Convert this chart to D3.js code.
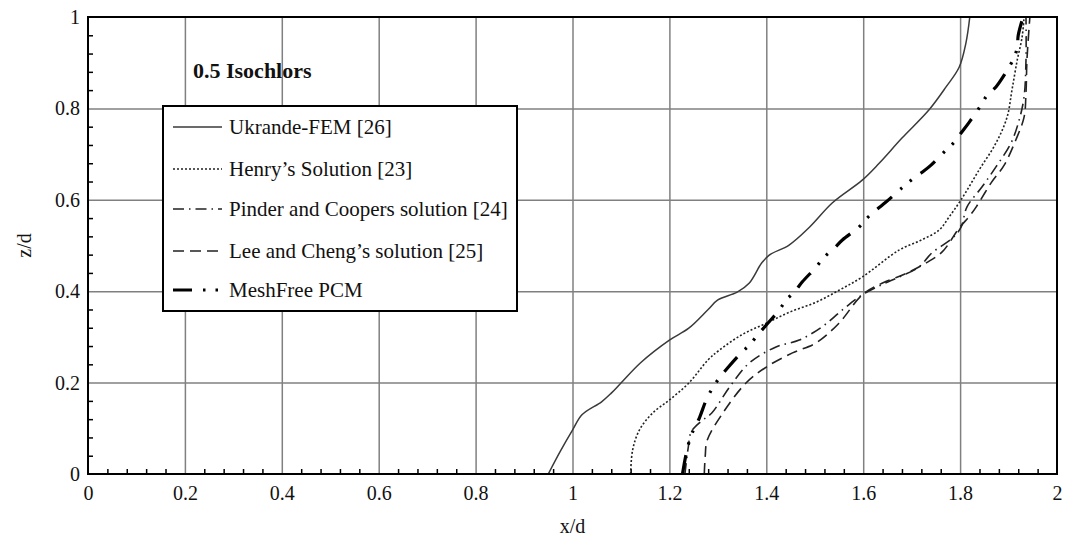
<!DOCTYPE html>
<html><head><meta charset="utf-8">
<script src="https://cdn.jsdelivr.net/npm/d3@7"></script>
<style>
html,body{margin:0;padding:0;background:#fff;}
svg{display:block;}
svg text{font-family:"Liberation Serif","Times New Roman","DejaVu Serif",serif;}
</style></head>
<body><svg id="c" width="1065" height="540"></svg>
<script>
// ---- data ----
const xTicks = [0, 0.2, 0.4, 0.6, 0.8, 1, 1.2, 1.4, 1.6, 1.8, 2];
const xTickLabels = ["0","0.2","0.4","0.6","0.8","1","1.2","1.4","1.6","1.8","2"];
const yTicks = [0, 0.2, 0.4, 0.6, 0.8, 1];
const yTickLabels = ["0","0.2","0.4","0.6","0.8","1"];
const seriesNames = ["Ukrande-FEM [26]","Henry\u2019s Solution [23]","Pinder and Coopers solution [24]","Lee and Cheng\u2019s solution [25]","MeshFree PCM"];

const ukrandeX = [0.95,0.975,1.0,1.02,1.06,1.08,1.1,1.14,1.2,1.24,1.28,1.30,1.34,1.365,1.39,1.406,1.447,1.49,1.536,1.598,1.633,1.68,1.736,1.771,1.798,1.812,1.82];
const ukrandeZ = [0,0.05,0.096,0.13,0.158,0.177,0.199,0.243,0.293,0.319,0.36,0.381,0.398,0.418,0.461,0.479,0.501,0.541,0.593,0.643,0.68,0.735,0.797,0.847,0.89,0.943,1.0];

const henryX = [1.12,1.124,1.138,1.165,1.2,1.24,1.28,1.303,1.35,1.4,1.45,1.503,1.55,1.598,1.674,1.72,1.757,1.777,1.802,1.839,1.874,1.897,1.907,1.918,1.928,1.932];
const henryZ = [0,0.052,0.096,0.133,0.162,0.199,0.25,0.271,0.305,0.33,0.355,0.376,0.402,0.431,0.49,0.512,0.534,0.562,0.6,0.665,0.724,0.781,0.84,0.906,0.956,1.0];

const pinderX = [1.232,1.239,1.245,1.265,1.287,1.324,1.365,1.42,1.468,1.515,1.557,1.598,1.64,1.674,1.715,1.742,1.784,1.802,1.814,1.845,1.874,1.905,1.922,1.932,1.936,1.936];
const pinderZ = [0,0.059,0.092,0.115,0.133,0.19,0.243,0.278,0.293,0.322,0.359,0.392,0.415,0.431,0.453,0.484,0.516,0.54,0.584,0.628,0.672,0.724,0.775,0.825,0.906,1.0];

const leeX = [1.272,1.274,1.278,1.31,1.358,1.4,1.454,1.503,1.55,1.598,1.64,1.68,1.695,1.73,1.763,1.798,1.82,1.833,1.864,1.891,1.915,1.932,1.936,1.938,1.944];
const leeZ = [0,0.04,0.074,0.133,0.199,0.234,0.265,0.287,0.33,0.392,0.418,0.435,0.442,0.462,0.486,0.538,0.565,0.584,0.637,0.676,0.731,0.781,0.834,0.906,1.0];

const pcmX = [1.227,1.235,1.245,1.262,1.276,1.289,1.303,1.32,1.348,1.365,1.382,1.4,1.427,1.441,1.458,1.474,1.503,1.52,1.54,1.557,1.592,1.608,1.627,1.647,1.68,1.699,1.72,1.74,1.771,1.788,1.802,1.819,1.843,1.856,1.874,1.891,1.911,1.918,1.92,1.93];
const pcmZ = [0,0.046,0.085,0.123,0.162,0.188,0.21,0.232,0.265,0.282,0.304,0.326,0.359,0.381,0.398,0.42,0.453,0.475,0.494,0.512,0.541,0.56,0.578,0.595,0.626,0.643,0.659,0.676,0.709,0.726,0.746,0.77,0.807,0.829,0.847,0.873,0.91,0.934,0.96,1.0];

// ---- layout ----
const FONT = "Liberation Serif, Times New Roman, DejaVu Serif, serif";
const M = {left:88, top:17, right:1057, bottom:474};
const W = M.right - M.left, H = M.bottom - M.top;
const svg = d3.select("#c");
const g = svg.append("g").attr("transform",`translate(${M.left},${M.top})`);
const x = d3.scaleLinear().domain([0,2]).range([0,W]);
const y = d3.scaleLinear().domain([0,1]).range([H,0]);
const FS = 20;

// grid
g.append("g").attr("transform",`translate(0,${H})`)
 .call(d3.axisBottom(x).tickValues(xTicks.slice(1,-1)).tickSize(-H).tickFormat(""))
 .call(s=>{s.select(".domain").remove(); s.selectAll("line").attr("stroke","#808080").attr("stroke-width",1.5);});
g.append("g")
 .call(d3.axisLeft(y).tickValues(yTicks.slice(1,-1)).tickSize(-W).tickFormat(""))
 .call(s=>{s.select(".domain").remove(); s.selectAll("line").attr("stroke","#808080").attr("stroke-width",1.5);});

// minor ticks (inward)
const xMinor = d3.range(0,2.0001,0.04).filter(v=>Math.abs(v/0.2-Math.round(v/0.2))>1e-6);
const yMinor = d3.range(0,1.0001,0.04).filter(v=>Math.abs(v/0.2-Math.round(v/0.2))>1e-6);
g.append("g").attr("transform",`translate(0,${H})`)
 .call(d3.axisBottom(x).tickValues(xMinor).tickSize(-5).tickFormat(""))
 .call(s=>{s.select(".domain").remove(); s.selectAll("line").attr("stroke","#000").attr("stroke-width",1.5);});
g.append("g")
 .call(d3.axisLeft(y).tickValues(yMinor).tickSize(-5).tickFormat(""))
 .call(s=>{s.select(".domain").remove(); s.selectAll("line").attr("stroke","#000").attr("stroke-width",1.5);});

// tick labels
g.append("g").attr("transform",`translate(0,${H})`)
 .call(d3.axisBottom(x).tickValues(xTicks).tickSize(0).tickPadding(12).tickFormat((d,i)=>xTickLabels[i]))
 .call(s=>{s.attr("font-family",FONT); s.select(".domain").remove(); s.selectAll("text").attr("font-family",FONT).attr("font-size",FS).attr("fill","#111");});
g.append("g")
 .call(d3.axisLeft(y).tickValues(yTicks).tickSize(0).tickPadding(8).tickFormat((d,i)=>yTickLabels[i]))
 .call(s=>{s.attr("font-family",FONT); s.select(".domain").remove(); s.selectAll("text").attr("font-family",FONT).attr("font-size",FS).attr("fill","#111");});

// axis titles
svg.append("text").attr("x",M.left+x(1)).attr("y",526).attr("text-anchor","middle").attr("dominant-baseline","central")
 .attr("font-family",FONT).attr("font-size",FS).attr("fill","#111").text("x/d");
svg.append("text").attr("transform",`translate(24,${M.top+H/2}) rotate(-90)`).attr("text-anchor","middle").attr("dominant-baseline","central")
 .attr("font-family",FONT).attr("font-size",FS).attr("fill","#111").text("z/d");

// series
const styles = [
 {xs:ukrandeX, zs:ukrandeZ, color:"#3a3a3a", w:1.5, dash:null},
 {xs:henryX, zs:henryZ, color:"#222", w:1.6, dash:"2,2"},
 {xs:pinderX, zs:pinderZ, color:"#222", w:1.6, dash:"11,5,1.5,5"},
 {xs:leeX, zs:leeZ, color:"#222", w:1.6, dash:"11,6"},
 {xs:pcmX, zs:pcmZ, color:"#000", w:3.2, dash:"19,11,2.5,10,2.5,11"}
];
const line = d3.line().x(d=>x(d[0])).y(d=>y(d[1])).curve(d3.curveCatmullRom.alpha(0.5));
svg.append("defs").append("clipPath").attr("id","pc").append("rect").attr("x",0).attr("y",0).attr("width",W).attr("height",H);
const lines = g.append("g").attr("clip-path","url(#pc)");
styles.forEach(s=>{
  const pts = s.xs.map((v,i)=>[v,s.zs[i]]);
  lines.append("path").datum(pts).attr("d",line).attr("fill","none")
   .attr("stroke",s.color).attr("stroke-width",s.w)
   .attr("stroke-dasharray",s.dash).attr("stroke-linejoin","round");
});

// frame
g.append("rect").attr("x",0).attr("y",0).attr("width",W).attr("height",H)
 .attr("fill","none").attr("stroke","#000").attr("stroke-width",2);

// title
svg.append("text").attr("x",193).attr("y",70).attr("dominant-baseline","central")
 .attr("font-family",FONT).attr("font-size",22).attr("font-weight","bold").attr("fill","#111").text("0.5 Isochlors");

// legend
const L = {x:163, y:106, w:354, h:205};
const lg = svg.append("g");
lg.append("rect").attr("x",L.x).attr("y",L.y).attr("width",L.w).attr("height",L.h)
 .attr("fill","#fff").attr("stroke","#000").attr("stroke-width",2);
const legY = [127,169,209,251,290];
seriesNames.forEach((n,i)=>{
  const s = styles[i];
  lg.append("line").attr("x1",173).attr("x2",222).attr("y1",legY[i]).attr("y2",legY[i])
   .attr("stroke",s.color).attr("stroke-width",s.w).attr("stroke-dasharray",s.dash);
  lg.append("text").attr("x",229).attr("y",legY[i]).attr("dominant-baseline","central")
   .attr("font-family",FONT).attr("font-size",21).attr("fill","#111").text(n);
});
</script></body></html>
